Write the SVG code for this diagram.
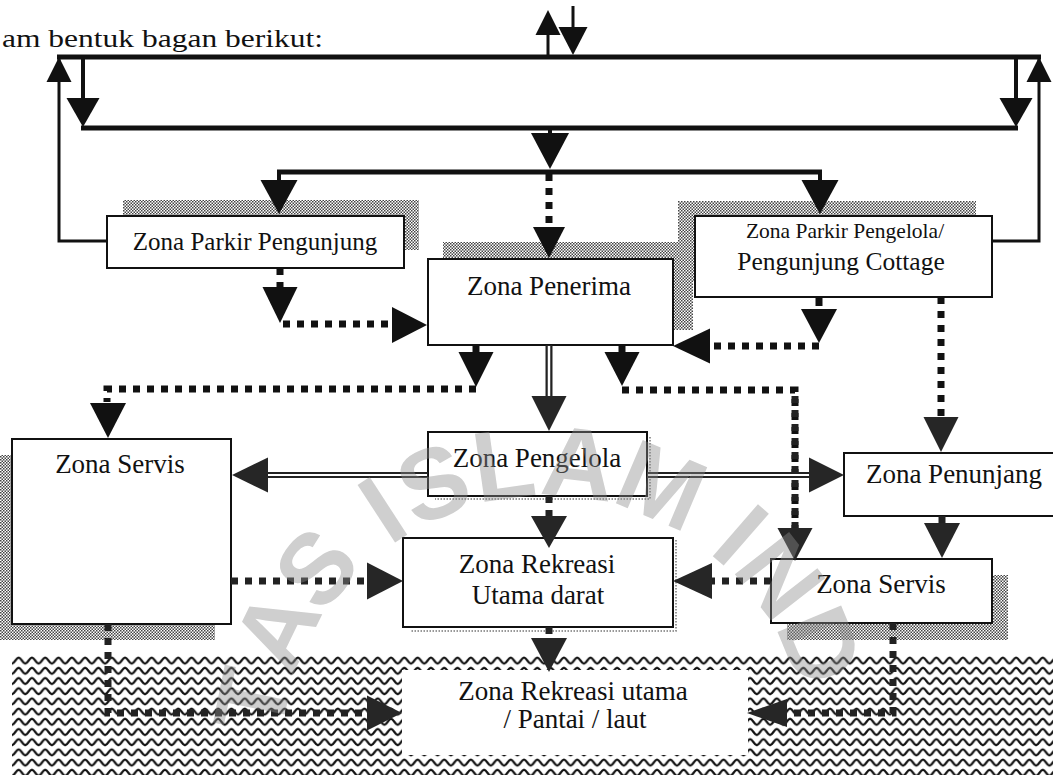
<svg xmlns="http://www.w3.org/2000/svg" width="1053" height="775" viewBox="0 0 1053 775">
<defs>
<style>
text{font-family:"Liberation Serif","Times New Roman",serif;fill:#111;}
.box{fill:#fff;stroke:#111;stroke-width:2;}
.stip{fill:url(#stip);}
.sh{fill:none;stroke:#777;stroke-width:1.5;stroke-dasharray:1.5 1.5;}
.ln{fill:none;stroke:#111;stroke-linecap:butt;}
.dot{fill:none;stroke:#111;stroke-width:7;stroke-dasharray:7 7;}
.dotl{fill:none;stroke:#222;stroke-width:7;stroke-dasharray:7 7;}
.hd{fill:#111;}
.hdl{fill:#262626;}
.dblo{fill:none;stroke:#222;}
.dbli{fill:none;stroke:#fff;}
.wm text{font-family:"Liberation Sans",Arial,sans-serif;font-weight:bold;font-size:100px;fill:#8c8c8c;}
</style>
<pattern id="stip" width="3" height="3" patternUnits="userSpaceOnUse">
<rect width="3" height="3" fill="#fff"/>
<rect width="1.5" height="1.5" fill="#444"/>
<rect x="1.5" y="1.5" width="1.5" height="1.5" fill="#444"/>
</pattern>
<pattern id="wave" x="12" y="656" width="13.3" height="10.2" patternUnits="userSpaceOnUse">
<path d="M-0.3,7.8 C3,7.2 4,1.6 6.65,1.6 C9.3,1.6 10.3,7.2 13.6,7.8" fill="none" stroke="#111" stroke-width="2.2"/>
</pattern>
</defs>
<rect width="1053" height="775" fill="#fff"/>

<g id="sea">
<rect x="12" y="656" width="1041" height="119" fill="url(#wave)"/>
</g>

<text x="2" y="47" font-size="26" textLength="321" lengthAdjust="spacingAndGlyphs">am bentuk bagan berikut:</text>

<g id="zona-parkir-pengunjung">
<rect class="stip" x="123" y="200" width="296" height="50"/>
<rect class="box" x="107" y="216" width="297" height="52"/>
<text x="255" y="250" font-size="25" text-anchor="middle">Zona Parkir Pengunjung</text>
</g>

<g id="zona-penerima">
<rect class="stip" x="443" y="242" width="250" height="88"/>
<rect class="box" x="428" y="259" width="245" height="86"/>
<text x="549" y="295" font-size="27" text-anchor="middle">Zona Penerima</text>
</g>

<g id="zona-parkir-pengelola">
<rect class="stip" x="678" y="201" width="298" height="81"/>
<rect class="box" x="695" y="216" width="297" height="81"/>
<text x="845" y="238" font-size="21.5" text-anchor="middle">Zona Parkir Pengelola/</text>
<text x="841" y="270" font-size="25.5" text-anchor="middle">Pengunjung Cottage</text>
</g>

<g id="zona-servis-kiri">
<rect class="stip" x="-4" y="455" width="219" height="185"/>
<rect class="box" x="12" y="439" width="219" height="185"/>
<text x="120" y="473" font-size="27" text-anchor="middle">Zona Servis</text>
</g>

<g id="zona-pengelola">
<path class="sh" d="M650 437 V499 H435"/>
<rect class="box" x="428" y="432" width="219" height="64"/>
<text x="537" y="467" font-size="27" text-anchor="middle">Zona Pengelola</text>
</g>

<g id="zona-penunjang">
<rect class="box" x="844" y="453" width="220" height="63"/>
<text x="954" y="483" font-size="27" text-anchor="middle">Zona Penunjang</text>
</g>

<g id="zona-rekreasi-darat">
<path class="sh" d="M676 540 V631 H410"/>
<rect class="box" x="403" y="538" width="270" height="89"/>
<text x="537" y="573" font-size="27" text-anchor="middle">Zona Rekreasi</text>
<text x="538" y="604" font-size="27" text-anchor="middle">Utama darat</text>
</g>

<g id="zona-servis-kanan">
<rect class="stip" x="787" y="575" width="221" height="65"/>
<rect class="box" x="771" y="559" width="221" height="64"/>
<text x="881" y="593" font-size="27" text-anchor="middle">Zona Servis</text>
</g>

<g id="zona-rekreasi-utama">
<rect x="402" y="670" width="346" height="85" fill="#fff"/>
<text x="573" y="700" font-size="27" text-anchor="middle">Zona Rekreasi utama</text>
<text x="575" y="728" font-size="27" text-anchor="middle">/ Pantai / laut</text>
</g>

<g id="connectors">
<path class="ln" stroke-width="5" d="M57 57 H1041"/>
<path class="ln" stroke-width="3" d="M59 57 V241 H107"/>
<path class="ln" stroke-width="3" d="M1039 57 V241 H992"/>
<polygon class="hd" points="59,57 46.5,82 71.5,82"/>
<polygon class="hd" points="1039,57 1026.5,82 1051.5,82"/>
<path class="ln" stroke-width="3" d="M548 57 V34"/>
<polygon class="hd" points="548,10 535.5,35 560.5,35"/>
<path class="ln" stroke-width="3" d="M573 6 V28"/>
<polygon class="hd" points="573,55 558.5,27 587.5,27"/>
<path class="ln" stroke-width="4" d="M83 57 V99"/>
<polygon class="hd" points="83,127 66.5,98 99.5,98"/>
<path class="ln" stroke-width="4" d="M1016 57 V99"/>
<polygon class="hd" points="1016,127 999.5,98 1032.5,98"/>
<path class="ln" stroke-width="5" d="M81 128 H1018"/>
<path class="ln" stroke-width="4" d="M550 128 V134"/>
<polygon class="hd" points="550,169 531,133 569,133"/>
<path class="ln" stroke-width="5" d="M277 172 H822"/>
<path class="ln" stroke-width="4" d="M279 172 V181"/>
<polygon class="hd" points="279,214 260.5,180 297.5,180"/>
<path class="ln" stroke-width="4" d="M820 172 V181"/>
<polygon class="hd" points="820,214 801.5,180 838.5,180"/>
<path class="dot" d="M549 174 V227"/>
<polygon class="hd" points="549,258 533,227 565,227"/>
<path class="dot" d="M280 268 V288"/>
<polygon class="hd" points="280,323 262.5,287 297.5,287"/>
<path class="dot" d="M283 324 H392"/>
<polygon class="hd" points="427,325 392,307 392,343"/>
<path class="ln" stroke-width="7" d="M819 297 V306"/>
<polygon class="hd" points="819,343 801,309 837,309"/>
<path class="dot" d="M819 346 H710"/>
<polygon class="hd" points="673,346 710,328.5 710,363.5"/>
<path class="ln" stroke-width="7" d="M476 345 V353"/>
<polygon class="hd" points="476,387 458.5,352 493.5,352"/>
<path class="dot" d="M476 389 H107 V402"/>
<polygon class="hd" points="108,438 90,403 126,403"/>
<path class="ln" stroke-width="7" d="M622 345 V353"/>
<polygon class="hd" points="622,386 604.5,352 639.5,352"/>
<path class="dot" d="M622 390 H795 V528"/>
<path class="dblo" stroke-width="7" d="M549 345 V397"/>
<path class="dbli" stroke-width="2.5" d="M549 346 V397"/>
<polygon class="hdl" points="549,431 531.5,396 566.5,396"/>
<path class="dblo" stroke-width="6" d="M428 475 H267"/>
<path class="dbli" stroke-width="2" d="M427 475 H267"/>
<polygon class="hdl" points="232,475 268,457.5 268,492.5"/>
<path class="dblo" stroke-width="6" d="M647 475 H810"/>
<path class="dbli" stroke-width="2" d="M648 475 H810"/>
<polygon class="hdl" points="844,475 809,457.5 809,492.5"/>
<path class="dotl" d="M795 396 V528"/>
<polygon class="hdl" points="795,561 777.5,528 812.5,528"/>
<path class="dot" d="M941 297 V417"/>
<polygon class="hdl" points="941,452 923.5,417 958.5,417"/>
<path class="dotl" d="M549 496 V516"/>
<polygon class="hdl" points="549,548 531,516 567,516"/>
<path class="ln" stroke-width="7" style="stroke:#222" d="M942 516 V524"/>
<polygon class="hdl" points="942,558 924,523 960,523"/>
<path class="dotl" d="M231 581 H367"/>
<polygon class="hdl" points="403,581 367,562.5 367,599.5"/>
<path class="dotl" d="M771 581 H712"/>
<polygon class="hdl" points="673,581 712,563 712,599"/>
<path class="dotl" d="M549 627 V638"/>
<polygon class="hdl" points="549,672 531,638 567,638"/>
<path class="dotl" d="M108 624 V713 H367"/>
<polygon class="hdl" points="402,713 367,695.5 367,730.5"/>
<path class="dotl" d="M893 623 V713 H787"/>
<polygon class="hdl" points="747,713 787,699 787,727"/>
</g>

<g id="watermark" class="wm" opacity="0.42">
<text text-anchor="middle" transform="translate(286.3,707.4) rotate(-78.5)">T</text>
<text text-anchor="middle" transform="translate(307.7,644.3) rotate(-64)">A</text>
<text text-anchor="middle" transform="translate(342.8,590.3) rotate(-50)">S</text>
<text text-anchor="middle" transform="translate(401.2,538.6) rotate(-33)">I</text>
<text text-anchor="middle" transform="translate(446.1,515.2) rotate(-22)">S</text>
<text text-anchor="middle" transform="translate(508.3,498.6) rotate(-8)">L</text>
<text text-anchor="middle" transform="translate(574.9,497.7) rotate(6.5)">A</text>
<text text-anchor="middle" transform="translate(648.1,517) rotate(23)">M</text>
<text text-anchor="middle" transform="translate(718.2,560.8) rotate(41)">I</text>
<text text-anchor="middle" transform="translate(753,597.5) rotate(52)">N</text>
<text text-anchor="middle" transform="translate(788.9,659) rotate(67.5)">D</text>
</g>
</svg>
